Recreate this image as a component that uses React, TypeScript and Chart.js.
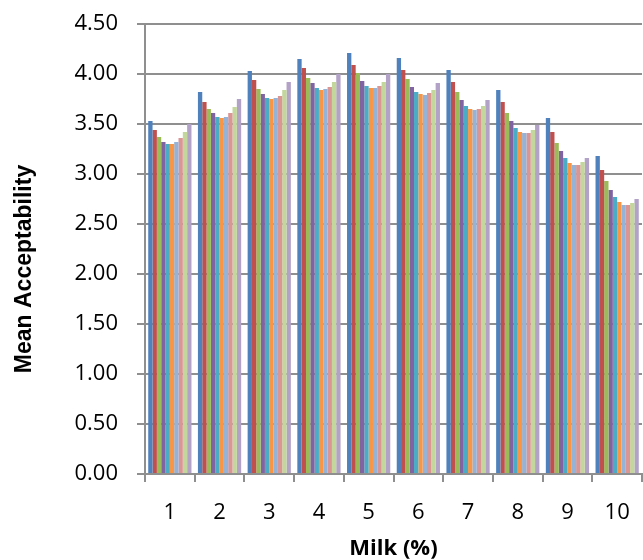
import React, { useEffect, useRef } from "react";
import { Chart, registerables } from "chart.js";

Chart.register(...registerables);

const categories = ["1", "2", "3", "4", "5", "6", "7", "8", "9", "10"];
const yTickValues = [0, 0.5, 1, 1.5, 2, 2.5, 3, 3.5, 4, 4.5];
const xTitle = "Milk (%)";
const yTitle = "Mean Acceptability";

const series1 = [3.53, 3.82, 4.03, 4.15, 4.21, 4.16, 4.04, 3.84, 3.56, 3.18];
const series2 = [3.44, 3.72, 3.94, 4.06, 4.09, 4.04, 3.92, 3.72, 3.42, 3.04];
const series3 = [3.37, 3.65, 3.85, 3.96, 4.01, 3.95, 3.82, 3.61, 3.31, 2.93];
const series4 = [3.32, 3.61, 3.8, 3.91, 3.93, 3.87, 3.74, 3.53, 3.23, 2.84];
const series5 = [3.3, 3.57, 3.76, 3.86, 3.88, 3.82, 3.68, 3.46, 3.16, 2.77];
const series6 = [3.3, 3.56, 3.75, 3.84, 3.86, 3.8, 3.65, 3.42, 3.11, 2.72];
const series7 = [3.32, 3.57, 3.76, 3.85, 3.86, 3.79, 3.64, 3.41, 3.09, 2.69];
const series8 = [3.36, 3.61, 3.78, 3.87, 3.88, 3.81, 3.65, 3.41, 3.09, 2.69];
const series9 = [3.42, 3.67, 3.84, 3.92, 3.92, 3.84, 3.68, 3.44, 3.12, 2.71];
const series10 = [3.5, 3.75, 3.92, 4.0, 4.0, 3.91, 3.74, 3.49, 3.16, 2.75];

const seriesList = [series1, series2, series3, series4, series5, series6, series7, series8, series9, series10];
const colors = [
  "#4F81BD", "#C0504D", "#9BBB59", "#8064A2", "#4BACC6",
  "#F79646", "#95B3D7", "#D99694", "#C3D69B", "#B3A2C7",
];

const gridColor = "#8f8f8f";

const yTitlePlugin = {
  id: "yTitlePlugin",
  afterDraw(chart: any) {
    const ctx = chart.ctx;
    ctx.save();
    ctx.translate(25, 269);
    ctx.rotate(-Math.PI / 2);
    ctx.font = "bold 23px 'Liberation Sans', Arial, sans-serif";
    ctx.fillStyle = "#000";
    ctx.textAlign = "center";
    ctx.textBaseline = "middle";
    ctx.fillText(yTitle, 0, 0);
    ctx.restore();
  },
};

export default function App() {
  const ref = useRef<HTMLCanvasElement | null>(null);
  useEffect(() => {
    if (!ref.current) return;
    const chart = new Chart(ref.current, {
      type: "bar",
      data: {
        labels: categories,
        datasets: seriesList.map((d, i) => ({
          label: "Series " + (i + 1),
          data: d,
          backgroundColor: colors[i],
          borderWidth: 0,
          barPercentage: 1.0,
          categoryPercentage: 0.87,
        })),
      },
      options: {
        animation: false,
        responsive: false,
        devicePixelRatio: 1,
        layout: { padding: { top: 24, right: 1, bottom: 0, left: 0 } },
        plugins: { legend: { display: false }, tooltip: { enabled: false }, title: { display: false } },
        scales: {
          x: {
            type: "category",
            offset: true,
            grid: {
              display: true,
              offset: true,
              drawOnChartArea: false,
              drawTicks: true,
              tickLength: 8,
              color: gridColor,
              lineWidth: 2,
            },
            border: { display: true, color: gridColor, width: 2 },
            ticks: {
              color: "#000",
              font: { family: "'Open Sans', sans-serif", size: 22 },
              padding: 18,
              maxRotation: 0,
              autoSkip: false,
            },
            title: {
              display: true,
              text: xTitle,
              color: "#000",
              font: { family: "'Open Sans', sans-serif", size: 22, weight: "bold", lineHeight: 1 },
              padding: { top: 0, bottom: 0 },
            },
            afterFit(scale: any) {
              scale.height = 86;
              scale.paddingLeft = 0;
              scale.paddingRight = 0;
            },
          },
          y: {
            min: 0,
            max: 4.5,
            afterBuildTicks(scale: any) {
              scale.ticks = yTickValues.map((v) => ({ value: v }));
            },
            grid: {
              display: true,
              drawOnChartArea: true,
              drawTicks: true,
              tickLength: 8,
              color: gridColor,
              lineWidth: 2,
            },
            border: { display: true, color: gridColor, width: 2 },
            ticks: {
              color: "#000",
              font: { family: "'Open Sans', sans-serif", size: 22 },
              padding: 19,
              callback: (v: any) => Number(v).toFixed(2),
            },
            afterFit(scale: any) {
              scale.width = 145;
              scale.paddingTop = 0;
              scale.paddingBottom = 0;
            },
          },
        },
      },
      plugins: [yTitlePlugin],
    });
    return () => chart.destroy();
  }, []);
  return (
    <div style={{ position: "absolute", left: 0, top: 0, width: 643, height: 560, background: "#fff" }}>
      <canvas ref={ref} width={643} height={560} style={{ display: "block" }} />
    </div>
  );
}
